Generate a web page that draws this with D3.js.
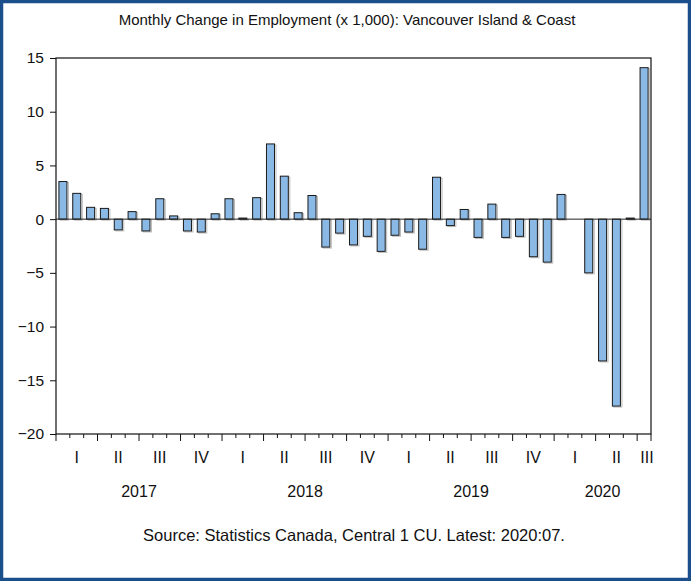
<!DOCTYPE html>
<html>
<head>
<meta charset="utf-8">
<script src="https://cdn.jsdelivr.net/npm/d3@7"></script>
<style>
  html, body { margin: 0; padding: 0; background: #fff; }
  svg { display: block; }
  text { font-family: "Liberation Sans", Arial, sans-serif; fill: #111; }
</style>
</head>
<body>
<svg id="chart" width="691" height="581"></svg>
<script>
// ---- data ----
const title = "Monthly Change in Employment (x 1,000): Vancouver Island & Coast";
const source = "Source: Statistics Canada, Central 1 CU. Latest: 2020:07.";
const months = [
  "2017:01","2017:02","2017:03","2017:04","2017:05","2017:06","2017:07","2017:08","2017:09","2017:10","2017:11","2017:12",
  "2018:01","2018:02","2018:03","2018:04","2018:05","2018:06","2018:07","2018:08","2018:09","2018:10","2018:11","2018:12",
  "2019:01","2019:02","2019:03","2019:04","2019:05","2019:06","2019:07","2019:08","2019:09","2019:10","2019:11","2019:12",
  "2020:01","2020:02","2020:03","2020:04","2020:05","2020:06","2020:07"
];
const values = [
  3.5, 2.4, 1.1, 1.0, -1.0, 0.7, -1.1, 1.9, 0.3, -1.1, -1.2, 0.5,
  1.9, 0.1, 2.0, 7.0, 4.0, 0.6, 2.2, -2.6, -1.3, -2.4, -1.6, -3.0,
  -1.5, -1.2, -2.8, 3.9, -0.6, 0.9, -1.7, 1.4, -1.7, -1.6, -3.5, -4.0,
  2.3, 0.0, -5.0, -13.2, -17.4, 0.1, 14.1
];
const yTicks = [15, 10, 5, 0, -5, -10, -15, -20];
const quarterLabels = ["I","II","III","IV"];
const years = ["2017","2018","2019","2020"];

// ---- layout ----
const svg = d3.select("#chart");
const W = 691, H = 581;
const pLeft = 56, pRight = 651, pTop = 58, pBottom = 434;

// outer border
svg.append("rect").attr("x", 1.5).attr("y", 1.5).attr("width", W - 3).attr("height", H - 3)
  .attr("fill", "#fff").attr("stroke", "#1b4f8c").attr("stroke-width", 3.5);

const x = d3.scaleBand().domain(months).range([pLeft, pRight]).paddingInner(0.42).paddingOuter(0.21);
const step = (pRight - pLeft) / months.length;
const y = d3.scaleLinear().domain([-20, 15]).range([pBottom, pTop]);

// title
svg.append("text").attr("x", 347).attr("y", 25).attr("text-anchor", "middle")
  .style("font-size", "15px").text(title);

// bars (shadow + bar)
const g = svg.append("g");
g.selectAll("rect.shadow").data(values).join("rect").attr("class", "shadow")
  .attr("x", (d, i) => x(months[i]) + 1.5)
  .attr("y", d => y(Math.max(0, d)) + 1)
  .attr("width", x.bandwidth())
  .attr("height", d => Math.abs(y(d) - y(0)))
  .attr("fill", "none").attr("stroke", "#bbb").attr("stroke-width", 1);
g.selectAll("rect.bar").data(values).join("rect").attr("class", "bar")
  .attr("x", (d, i) => x(months[i]))
  .attr("y", d => y(Math.max(0, d)))
  .attr("width", x.bandwidth())
  .attr("height", d => Math.abs(y(d) - y(0)))
  .attr("fill", "#8bb9e5").attr("stroke", "#1a1a1a").attr("stroke-width", 1);

// zero line
svg.append("line").attr("x1", pLeft).attr("x2", pRight).attr("y1", y(0)).attr("y2", y(0))
  .attr("stroke", "#222").attr("stroke-width", 1);

// frame
svg.append("rect").attr("x", pLeft).attr("y", pTop).attr("width", pRight - pLeft).attr("height", pBottom - pTop)
  .attr("fill", "none").attr("stroke", "#111").attr("stroke-width", 1.2);

// y axis
const yAxis = d3.axisLeft(y).tickValues(yTicks).tickSize(6).tickPadding(6).tickFormat(d3.format("d"));
const ya = svg.append("g").attr("transform", `translate(${pLeft},0)`).call(yAxis);
ya.select(".domain").remove();
ya.selectAll("text").style("font-size", "15.5px").attr("fill", "#111").style("font-family", "'Liberation Sans', Arial, sans-serif");
ya.selectAll("line").attr("stroke", "#111");

// x axis: month ticks at boundaries
const xb = svg.append("g");
d3.range(months.length + 1).forEach(i => {
  const xx = pLeft + i * step;
  const major = (i % 3 === 0) || i === months.length;
  xb.append("line").attr("x1", xx).attr("x2", xx).attr("y1", pBottom).attr("y2", pBottom + (major ? 7 : 4))
    .attr("stroke", "#111").attr("stroke-width", 1);
});

// quarter labels
const quarters = d3.groups(months.map((m, i) => ({m, i})), d => {
  const [yr, mo] = d.m.split(":");
  return yr + "Q" + Math.floor((+mo - 1) / 3);
});
quarters.forEach(([key, items]) => {
  const q = +key.split("Q")[1];
  const a = x(items[0].m), b = x(items[items.length - 1].m) + x.bandwidth();
  let cx = (a + b) / 2;
  if (items.length < 3) cx = Math.min(cx + 3, pRight - 4);
  svg.append("text").attr("x", cx).attr("y", 463).attr("text-anchor", "middle")
    .style("font-size", "16px").text(quarterLabels[q]);
});

// year labels
years.forEach(yr => {
  const idx = months.map((m, i) => m.startsWith(yr) ? i : -1).filter(i => i >= 0);
  const a = pLeft + idx[0] * step, b = pLeft + (idx[idx.length - 1] + 1) * step;
  svg.append("text").attr("x", (a + b) / 2).attr("y", 497).attr("text-anchor", "middle")
    .style("font-size", "16px").text(yr);
});

// source
svg.append("text").attr("x", 354).attr("y", 541).attr("text-anchor", "middle")
  .style("font-size", "16.5px").text(source);
</script>
</body>
</html>
